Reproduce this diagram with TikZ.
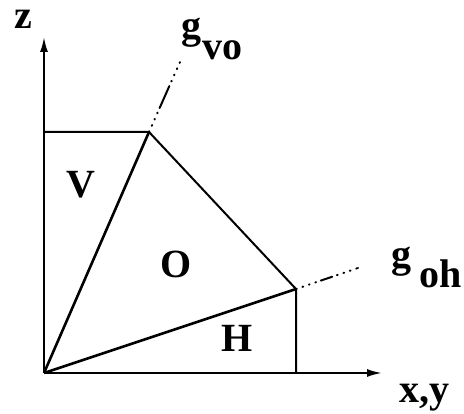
\documentclass[tikz,border=0pt]{standalone}
\usepackage{fontspec}
\setmainfont{Liberation Serif}
\usetikzlibrary{arrows.meta}

\begin{document}
\begin{tikzpicture}[
  x=1pt, y=-1pt,
  axis/.style={line width=2pt, -{Latex[length=15pt, width=8pt]}},
  edge/.style={line width=2pt},
  ray/.style={line width=2.6pt},
  extvo/.style={line width=2pt, line cap=round,
                dash pattern=on 0.8pt off 6pt on 0.8pt off 6pt on 0.8pt off 6pt on 0.8pt off 5pt
                             on 24pt off 5pt on 0.8pt off 6pt on 0.8pt off 6pt on 0.8pt off 6pt on 0.8pt},
  extoh/.style={line width=2pt, line cap=round,
                dash pattern=on 0.8pt off 6pt on 0.8pt off 6pt on 0.8pt off 6pt on 0.8pt off 5pt
                             on 12pt off 5pt on 0.8pt off 6pt on 0.8pt off 6pt on 0.8pt off 6pt on 0.8pt},
  lbl/.style={font=\fontsize{40}{42}\selectfont\bfseries, inner sep=0pt, anchor=base west},
]
  \useasboundingbox (0,0) rectangle (464,414);

  % corner points
  \coordinate (orig) at (44,373);
  \coordinate (zend) at (44,37);
  \coordinate (xend) at (382,373);
  \coordinate (vcut) at (44,132);
  \coordinate (hcut) at (296,373);
  \coordinate (pvo)  at (149,132);
  \coordinate (poh)  at (296,289);
  \coordinate (gvoend) at (180,62);
  \coordinate (gohend) at (358,268);

  % axes
  \draw[axis] (orig) -- (zend);
  \draw[axis] (orig) -- (xend);

  % regions
  \draw[edge] (vcut) -- (pvo) -- (poh) -- (hcut);
  \draw[ray] (orig) -- (pvo);
  \draw[ray] (orig) -- (poh);

  % boundary extensions
  \draw[extvo] (pvo) -- (gvoend);
  \draw[extoh] (poh) -- (gohend);

  % labels
  \node[lbl] (zlab)  at (14,29)  {z};
  \node[lbl] (xylab) at (399,403) {x,y};
  \node[lbl] (vlab)  at (66,198) {V};
  \node[lbl] (olab)  at (160,278) {O};
  \node[lbl] (hlab)  at (221,352) {H};
  \node[lbl] (gvo)   at (181,39) {g};
  \node[lbl] (gvosub) at (202,60) {vo};
  \node[lbl] (goh)   at (391,268) {g};
  \node[lbl] (gohsub) at (419,288) {oh};
\end{tikzpicture}
\end{document}
